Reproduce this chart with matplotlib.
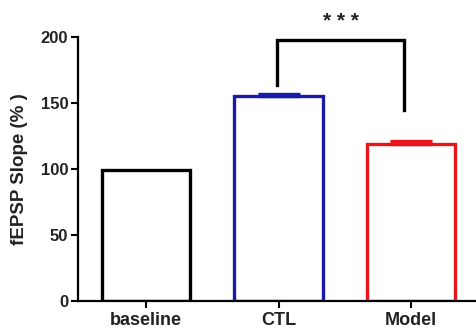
import matplotlib
matplotlib.use("Agg")
import matplotlib.pyplot as plt

categories = ["baseline", "CTL", "Model"]
values = [99, 155, 119]
errors = [0, 2, 2]
edge_colors = ["#000000", "#1a1aa8", "#e8151b"]
yticks = [0, 50, 100, 150, 200]
sig_label = "* * *"

plt.rcParams['font.family'] = ['Liberation Sans', 'DejaVu Sans']
plt.rcParams['font.weight'] = 'bold'

fig = plt.figure(figsize=(4.76, 3.32), dpi=100)
ax = fig.add_axes([0.164, 0.094, 0.836, 0.794])

x = list(range(len(categories)))
for xi, v, e, c in zip(x, values, errors, edge_colors):
    ax.bar(xi, v, width=0.665, facecolor='white', edgecolor=c, linewidth=2.4, zorder=2)
    if e > 0:
        ax.errorbar(xi, v, yerr=[[0], [e]], fmt='none', ecolor=c, elinewidth=2.4,
                    capsize=15, capthick=2.4, zorder=3)

ax.set_xlim(-0.513, 2.49)
ax.set_ylim(0, 200)
ax.set_yticks(yticks)
ax.set_xticks(x)
ax.set_xticklabels(categories, fontsize=13, fontweight='bold', color='#222222')
ax.tick_params(axis='y', labelsize=12, width=1.5, length=5, labelcolor='#222222', pad=2)
ax.tick_params(axis='x', width=1.5, length=5, pad=3)
for lab in ax.get_yticklabels():
    lab.set_fontweight('bold')
ax.set_ylabel("fEPSP Slope (% )", fontsize=13.5, fontweight='bold', color='#222222', labelpad=9)
for s in ['top', 'right']:
    ax.spines[s].set_visible(False)
for s in ['left', 'bottom']:
    ax.spines[s].set_linewidth(1.6)

# significance bracket
xl, xr = 0.99, 1.95
ax.plot([xl, xl, xr, xr], [164, 197.5, 197.5, 145], color='black', lw=2.4,
        clip_on=False, solid_joinstyle='miter', zorder=4)
ax.text((xl + xr) / 2, 208, sig_label, ha='center', va='baseline', fontsize=15,
        fontweight='bold', color='#222222', clip_on=False)

fig.savefig("out.png", dpi=100)
